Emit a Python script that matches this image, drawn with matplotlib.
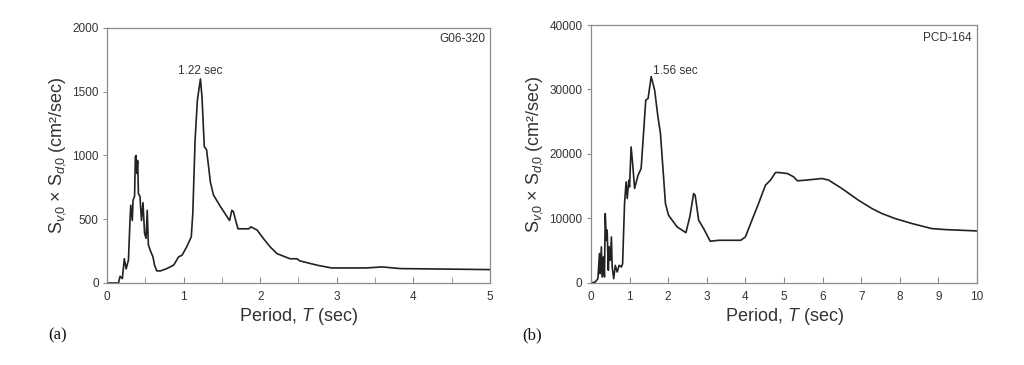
import matplotlib
matplotlib.use("Agg")
import matplotlib.pyplot as plt
from matplotlib.ticker import MultipleLocator

# panel (a): G06-320
t_a = [0.0, 0.15, 0.17, 0.20, 0.226, 0.25, 0.28, 0.30, 0.31, 0.33, 0.34, 0.36, 0.37, 0.38,
       0.39, 0.40, 0.41, 0.43, 0.45, 0.47, 0.49, 0.51, 0.525, 0.54, 0.565, 0.60, 0.62, 0.65,
       0.70, 0.78, 0.87, 0.935, 0.98, 1.04, 1.10, 1.12, 1.15, 1.18, 1.22, 1.24, 1.27, 1.30,
       1.35, 1.39, 1.48, 1.54, 1.60, 1.63, 1.65, 1.68, 1.71, 1.85, 1.88, 1.96, 2.04, 2.13,
       2.22, 2.39, 2.48, 2.52, 2.74, 2.93, 3.00, 3.39, 3.59, 3.83, 5.0]
s_a = [0, 0, 52, 35, 190, 110, 180, 490, 610, 490, 650, 680, 990, 1000,
       860, 960, 700, 680, 490, 630, 390, 350, 570, 300, 255, 205, 140, 95,
       95, 113, 140, 205, 218, 283, 362, 545, 1120, 1435, 1600, 1460, 1070, 1045,
       790, 690, 600, 545, 490, 570, 560, 490, 425, 425, 440, 415, 350, 283,
       230, 190, 190, 173, 140, 118, 118, 118, 126, 113, 105]

# panel (b): PCD-164
t_b = [0.0, 0.11, 0.18, 0.22, 0.24, 0.27, 0.29, 0.32, 0.35, 0.37, 0.40, 0.42, 0.45, 0.47,
       0.50, 0.53, 0.55, 0.59, 0.63, 0.68, 0.73, 0.79, 0.82, 0.87, 0.91, 0.94, 0.98, 1.00,
       1.04, 1.08, 1.13, 1.22, 1.30, 1.42, 1.48, 1.56, 1.65, 1.73, 1.80, 1.93, 2.01, 2.23,
       2.46, 2.56, 2.66, 2.70, 2.79, 2.92, 3.09, 3.31, 3.88, 4.00, 4.17, 4.34, 4.52, 4.65,
       4.78, 4.86, 5.09, 5.25, 5.35, 5.55, 5.99, 6.16, 6.50, 6.93, 7.28, 7.54, 7.88, 8.32,
       8.83, 9.18, 10.0]
s_b = [0, 150, 670, 4550, 1450, 5600, 930, 4040, 930, 10760, 6600, 8200, 1970, 5600,
       3500, 7140, 2480, 670, 2740, 1700, 2740, 2480, 3000, 12300, 15680, 13100, 15940, 14900,
       21100, 18500, 14660, 16700, 17750, 28360, 28600, 32000, 29900, 26000, 23200, 12300, 10500, 8700,
       7800, 10250, 13870, 13600, 9730, 8430, 6470, 6620, 6620, 7140, 9730, 12300, 15160, 15940,
       17130, 17130, 16970, 16460, 15840, 15940, 16200, 15940, 14650, 12830, 11540, 10760, 9990, 9210,
       8430, 8280, 8070]

plt.rcParams["font.family"] = ["Liberation Sans", "DejaVu Sans"]
plt.rcParams["mathtext.fontset"] = "custom"
plt.rcParams["mathtext.rm"] = "Liberation Sans"
plt.rcParams["mathtext.it"] = "Liberation Sans:italic"

TXT = "#333333"
SPINE = "#8c8c8c"
YLAB = r"$\mathrm{S}_{\mathit{v}\mathrm{,}\!\mathrm{0}}$ × $\mathrm{S}_{\mathit{d}\mathrm{,}\!\mathrm{0}}$ (cm²/sec)"

fig = plt.figure(figsize=(10.24, 3.65), dpi=100)
ax_a = fig.add_axes([0.1045, 0.2247, 0.374, 0.6986])
ax_b = fig.add_axes([0.5771, 0.2247, 0.377, 0.7068])


def style(ax, xmax, ymax, xstep, ystep, xminor=None):
    ax.set_xlim(0, xmax)
    ax.set_ylim(0, ymax)
    ax.xaxis.set_major_locator(MultipleLocator(xstep))
    ax.yaxis.set_major_locator(MultipleLocator(ystep))
    if xminor:
        ax.xaxis.set_minor_locator(MultipleLocator(xminor))
    for sp in ax.spines.values():
        sp.set_color(SPINE)
        sp.set_linewidth(0.9)
    ax.tick_params(axis="x", direction="in", length=4, color=SPINE, labelsize=8.5,
                   labelcolor=TXT, pad=6)
    ax.tick_params(axis="x", which="minor", direction="in", length=4, color=SPINE)
    ax.tick_params(axis="y", direction="out", length=3, color=SPINE, labelsize=8.5,
                   labelcolor=TXT, pad=3)
    ax.set_xlabel("Period, $\\mathit{T}$ (sec)", fontsize=13, color=TXT, labelpad=2)
    ax.set_ylabel(YLAB, fontsize=13, color=TXT, labelpad=3)


ax_a.plot(t_a, s_a, color="#222222", lw=1.2)
style(ax_a, 5, 2000, 1, 500, 0.5)
ax_a.text(0.987, 0.957, "G06-320", transform=ax_a.transAxes, ha="right", va="center",
          fontsize=8.5, color=TXT)
ax_a.annotate("1.22 sec", xy=(1.22, 1600), xytext=(0, 6), textcoords="offset points",
              ha="center", va="center", fontsize=8.5, color=TXT)

ax_b.plot(t_b, s_b, color="#222222", lw=1.2)
style(ax_b, 10, 40000, 1, 10000)
ax_b.text(0.987, 0.95, "PCD-164", transform=ax_b.transAxes, ha="right", va="center",
          fontsize=8.5, color=TXT)
ax_b.annotate("1.56 sec", xy=(1.56, 32000), xytext=(1.5, 4.3), textcoords="offset points",
              ha="left", va="center", fontsize=8.5, color=TXT)

fig.text(0.047, 0.07, "(a)", family="Liberation Serif", fontsize=12, color="#111111")
fig.text(0.51, 0.07, "(b)", family="Liberation Serif", fontsize=12, color="#111111")

fig.savefig("out.png", dpi=100)
